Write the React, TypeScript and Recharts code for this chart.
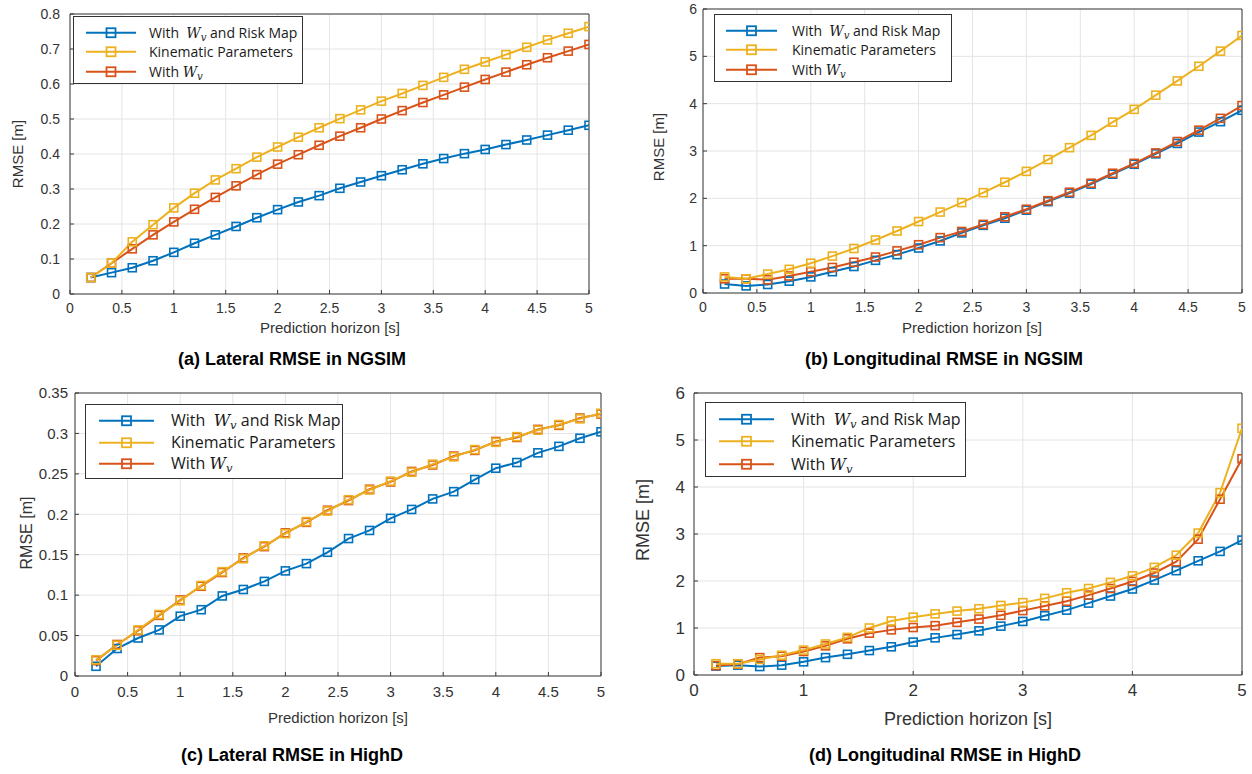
import React from 'react';
import { LineChart, Line, XAxis, YAxis, CartesianGrid, ReferenceLine, Legend } from 'recharts';

// Prediction horizon [s]
const HORIZON = [0.2, 0.4, 0.6, 0.8, 1.0, 1.2, 1.4, 1.6, 1.8, 2.0, 2.2, 2.4, 2.6, 2.8, 3.0, 3.2, 3.4, 3.6, 3.8, 4.0, 4.2, 4.4, 4.6, 4.8, 5.0];

// (a) Lateral RMSE in NGSIM
const A_RISK = [0.047, 0.061, 0.075, 0.095, 0.119, 0.145, 0.169, 0.193, 0.218, 0.241, 0.263, 0.281, 0.302, 0.320, 0.338, 0.355, 0.372, 0.387, 0.401, 0.413, 0.427, 0.440, 0.454, 0.468, 0.482];
const A_KIN = [0.047, 0.088, 0.149, 0.198, 0.246, 0.288, 0.326, 0.358, 0.391, 0.420, 0.448, 0.475, 0.501, 0.526, 0.551, 0.573, 0.596, 0.619, 0.642, 0.663, 0.684, 0.705, 0.726, 0.745, 0.764];
const A_WV = [0.047, 0.088, 0.129, 0.169, 0.206, 0.242, 0.276, 0.309, 0.341, 0.371, 0.398, 0.425, 0.451, 0.475, 0.500, 0.524, 0.547, 0.569, 0.591, 0.613, 0.634, 0.655, 0.675, 0.694, 0.713];

// (b) Longitudinal RMSE in NGSIM
const B_RISK = [0.19, 0.15, 0.18, 0.25, 0.34, 0.45, 0.56, 0.69, 0.81, 0.95, 1.10, 1.27, 1.43, 1.58, 1.75, 1.93, 2.11, 2.30, 2.51, 2.72, 2.94, 3.16, 3.40, 3.62, 3.86];
const B_KIN = [0.34, 0.30, 0.40, 0.50, 0.63, 0.78, 0.94, 1.12, 1.31, 1.51, 1.71, 1.91, 2.12, 2.34, 2.57, 2.82, 3.07, 3.33, 3.61, 3.88, 4.18, 4.48, 4.79, 5.11, 5.44];
const B_WV = [0.30, 0.30, 0.28, 0.36, 0.45, 0.54, 0.65, 0.76, 0.89, 1.02, 1.17, 1.30, 1.45, 1.61, 1.77, 1.95, 2.13, 2.32, 2.53, 2.74, 2.96, 3.20, 3.44, 3.69, 3.96];

// (c) Lateral RMSE in HighD
const C_RISK = [0.012, 0.034, 0.047, 0.057, 0.074, 0.082, 0.099, 0.107, 0.117, 0.130, 0.139, 0.153, 0.170, 0.180, 0.195, 0.206, 0.219, 0.228, 0.243, 0.257, 0.264, 0.276, 0.284, 0.294, 0.302];
const C_KIN = [0.020, 0.038, 0.057, 0.076, 0.093, 0.112, 0.129, 0.145, 0.161, 0.176, 0.191, 0.204, 0.218, 0.230, 0.241, 0.252, 0.262, 0.271, 0.280, 0.289, 0.296, 0.304, 0.311, 0.318, 0.325];
const C_WV = [0.019, 0.039, 0.056, 0.075, 0.094, 0.111, 0.128, 0.146, 0.160, 0.177, 0.190, 0.205, 0.217, 0.231, 0.240, 0.253, 0.261, 0.272, 0.279, 0.290, 0.295, 0.305, 0.310, 0.319, 0.324];

// (d) Longitudinal RMSE in HighD
const D_RISK = [0.19, 0.21, 0.18, 0.21, 0.28, 0.37, 0.44, 0.52, 0.60, 0.70, 0.79, 0.86, 0.94, 1.04, 1.14, 1.26, 1.38, 1.53, 1.68, 1.83, 2.02, 2.22, 2.43, 2.63, 2.87];
const D_KIN = [0.24, 0.24, 0.33, 0.42, 0.53, 0.66, 0.80, 1.00, 1.15, 1.23, 1.30, 1.36, 1.41, 1.48, 1.54, 1.63, 1.75, 1.84, 1.97, 2.11, 2.29, 2.55, 3.02, 3.88, 5.25];
const D_WV = [0.20, 0.23, 0.37, 0.40, 0.50, 0.62, 0.77, 0.89, 0.96, 1.01, 1.05, 1.12, 1.19, 1.27, 1.37, 1.47, 1.57, 1.70, 1.84, 1.99, 2.17, 2.41, 2.89, 3.74, 4.60];

// Tick values
const X_TICKS_HALF = [0, 0.5, 1, 1.5, 2, 2.5, 3, 3.5, 4, 4.5, 5];
const X_TICKS_INT = [0, 1, 2, 3, 4, 5];
const A_Y_TICKS = [0, 0.1, 0.2, 0.3, 0.4, 0.5, 0.6, 0.7, 0.8];
const B_Y_TICKS = [0, 1, 2, 3, 4, 5, 6];
const C_Y_TICKS = [0, 0.05, 0.1, 0.15, 0.2, 0.25, 0.3, 0.35];
const D_Y_TICKS = [0, 1, 2, 3, 4, 5, 6];

const CAPTIONS = ['(a) Lateral RMSE in NGSIM', '(b) Longitudinal RMSE in NGSIM', '(c) Lateral RMSE in HighD', '(d) Longitudinal RMSE in HighD'];
const Y_TITLE = 'RMSE [m]';
const X_TITLE = 'Prediction horizon [s]';

const BLUE = '#0072BD';
const YELLOW = '#EDB120';
const RED = '#D95319';
const AXIS = '#3a3a3a';
const GRID = '#e4e4e4';
const SANS = '"Liberation Sans", Arial, sans-serif';
const LEG_FONT = '"Open Sans", "Noto Sans", sans-serif';

const build = (risk: number[], kin: number[], wv: number[]) =>
  HORIZON.map((t, i) => ({ t, risk: risk[i], kin: kin[i], wv: wv[i] }));

const squareDot = (color: string, s: number) => (props: any) => {
  const { cx, cy, index } = props;
  if (cx == null || cy == null) return <g key={index} />;
  return (
    <rect key={index} x={cx - s / 2} y={cy - s / 2} width={s} height={s}
      fill="none" stroke={color} strokeWidth={1.6} />
  );
};

const Wv = () => (
  <span style={{ fontFamily: '"DejaVu Serif", "Liberation Serif", serif', fontStyle: 'italic' }}>
    W<span style={{ fontSize: '0.72em', position: 'relative', top: '0.3em' }}>v</span>
  </span>
);

type LegCfg = { left: number; top: number; width: number; height: number; font: number; rowH: number; padTop: number; lineX0: number; lineX1: number; textX: number };

const LegendBox = ({ cfg }: { cfg: LegCfg }) => {
  const entries = [
    { color: BLUE, label: <span>With&nbsp; <Wv /> and Risk Map</span> },
    { color: YELLOW, label: <span>Kinematic Parameters</span> },
    { color: RED, label: <span>With <Wv /></span> },
  ];
  const mid = (cfg.lineX0 + cfg.lineX1) / 2;
  return (
    <div style={{
      width: cfg.width, height: cfg.height, boxSizing: 'border-box', border: '1px solid #333',
      background: '#fff', paddingTop: cfg.padTop, fontFamily: LEG_FONT, fontSize: cfg.font, color: '#1a1a1a',
    }}>
      {entries.map((e, i) => (
        <div key={i} style={{ position: 'relative', height: cfg.rowH }}>
          <svg width={cfg.textX} height={cfg.rowH} style={{ position: 'absolute', left: 0, top: 0 }}>
            <line x1={cfg.lineX0} x2={cfg.lineX1} y1={cfg.rowH / 2} y2={cfg.rowH / 2} stroke={e.color} strokeWidth={2.2} />
            <rect x={mid - 4.5} y={cfg.rowH / 2 - 4.5} width={9} height={9} fill="none" stroke={e.color} strokeWidth={1.8} />
          </svg>
          <div style={{ position: 'absolute', left: cfg.textX, top: 0, height: cfg.rowH, lineHeight: `${cfg.rowH}px`, whiteSpace: 'nowrap' }}>
            {e.label}
          </div>
        </div>
      ))}
    </div>
  );
};

type PanelProps = {
  left: number; top: number; width: number; height: number;
  margin: { top: number; right: number; bottom: number; left: number };
  yWidth: number; xHeight: number;
  yTicks: number[]; xTicks: number[]; yMax: number;
  tickFont: number; yTickGap: number; xTickGap: number;
  data: any[]; leg: LegCfg;
};

const Panel = (p: PanelProps) => (
  <div style={{ position: 'absolute', left: p.left, top: p.top }}>
    <LineChart width={p.width} height={p.height} data={p.data} margin={p.margin}>
      <CartesianGrid stroke={GRID} strokeWidth={1} />
      <XAxis dataKey="t" type="number" domain={[0, 5]} ticks={p.xTicks} height={p.xHeight}
        stroke={AXIS} tickSize={-4} tickMargin={p.xTickGap + 4} allowDataOverflow
        tick={{ fontSize: p.tickFont, fill: '#333', fontFamily: SANS }} />
      <YAxis type="number" domain={[0, p.yMax]} ticks={p.yTicks} width={p.yWidth}
        stroke={AXIS} tickSize={-4} tickMargin={p.yTickGap + 4} allowDataOverflow interval={0}
        tick={{ fontSize: p.tickFont, fill: '#333', fontFamily: SANS }} />
      <ReferenceLine y={p.yMax} stroke={AXIS} strokeWidth={1} />
      <ReferenceLine x={5} stroke={AXIS} strokeWidth={1} />
      <Line dataKey="risk" stroke={BLUE} strokeWidth={2} dot={squareDot(BLUE, 8)} isAnimationActive={false} />
      <Line dataKey="wv" stroke={RED} strokeWidth={2} dot={squareDot(RED, 8)} isAnimationActive={false} />
      <Line dataKey="kin" stroke={YELLOW} strokeWidth={2} dot={squareDot(YELLOW, 8)} isAnimationActive={false} />
      <Legend layout="vertical" align="center" verticalAlign="middle"
        wrapperStyle={{ left: p.leg.left - p.left, top: p.leg.top - p.top, width: p.leg.width, height: p.leg.height }}
        content={() => <LegendBox cfg={p.leg} />} />
    </LineChart>
  </div>
);

const Title = ({ x, y, text, size, rotate, bold }: { x: number; y: number; text: string; size: number; rotate?: boolean; bold?: boolean }) => (
  <div style={{
    position: 'absolute', left: x, top: y, transform: `translate(-50%, -50%)${rotate ? ' rotate(-90deg)' : ''}`,
    fontFamily: SANS, fontSize: size, fontWeight: bold ? 700 : 400, color: bold ? '#000' : '#333', whiteSpace: 'nowrap',
  }}>{text}</div>
);

export default function App() {
  return (
    <div style={{ position: 'absolute', left: 0, top: 0, width: 1252, height: 774, background: '#fff', overflow: 'hidden' }}>
      <Panel left={0} top={0} width={600} height={340} margin={{ top: 14, right: 11, bottom: 0, left: 0 }}
        yWidth={70} xHeight={46} yTicks={A_Y_TICKS} xTicks={X_TICKS_HALF} yMax={0.8}
        tickFont={14} yTickGap={10} xTickGap={9} data={build(A_RISK, A_KIN, A_WV)}
        leg={{ left: 73, top: 16, width: 230, height: 68, font: 14, rowH: 19.5, padTop: 5.5, lineX0: 12, lineX1: 62, textX: 75 }} />
      <Panel left={630} top={0} width={622} height={340} margin={{ top: 9, right: 10, bottom: 0, left: 0 }}
        yWidth={73} xHeight={47} yTicks={B_Y_TICKS} xTicks={X_TICKS_HALF} yMax={6}
        tickFont={14} yTickGap={6} xTickGap={9} data={build(B_RISK, B_KIN, B_WV)}
        leg={{ left: 714, top: 14, width: 238, height: 68, font: 14, rowH: 19.5, padTop: 5.5, lineX0: 11, lineX1: 62, textX: 77 }} />
      <Panel left={0} top={380} width={620} height={360} margin={{ top: 13, right: 19, bottom: 0, left: 0 }}
        yWidth={75} xHeight={64} yTicks={C_Y_TICKS} xTicks={X_TICKS_HALF} yMax={0.35}
        tickFont={15} yTickGap={7} xTickGap={10} data={build(C_RISK, C_KIN, C_WV)}
        leg={{ left: 85, top: 404, width: 258, height: 75, font: 16, rowH: 21.5, padTop: 5, lineX0: 13, lineX1: 68, textX: 85 }} />
      <Panel left={630} top={380} width={622} height={360} margin={{ top: 13, right: 10, bottom: 0, left: 0 }}
        yWidth={64} xHeight={65} yTicks={D_Y_TICKS} xTicks={X_TICKS_INT} yMax={6}
        tickFont={17} yTickGap={9} xTickGap={9} data={build(D_RISK, D_KIN, D_WV)}
        leg={{ left: 705, top: 402, width: 261, height: 75, font: 16, rowH: 22.5, padTop: 4.5, lineX0: 13, lineX1: 68, textX: 85 }} />

      <Title x={17} y={154} text={Y_TITLE} size={15} rotate />
      <Title x={330} y={327} text={X_TITLE} size={15} />
      <Title x={658} y={147} text={Y_TITLE} size={15} rotate />
      <Title x={972} y={327} text={X_TITLE} size={15} />
      <Title x={27} y={533} text={Y_TITLE} size={16} rotate />
      <Title x={338} y={717} text={X_TITLE} size={15} />
      <Title x={643} y={520} text={Y_TITLE} size={18} rotate />
      <Title x={968} y={719} text={X_TITLE} size={18} />

      <Title x={292} y={359} text={CAPTIONS[0]} size={18} bold />
      <Title x={944} y={359} text={CAPTIONS[1]} size={18} bold />
      <Title x={292} y={755} text={CAPTIONS[2]} size={18} bold />
      <Title x={945} y={755} text={CAPTIONS[3]} size={18} bold />
    </div>
  );
}
